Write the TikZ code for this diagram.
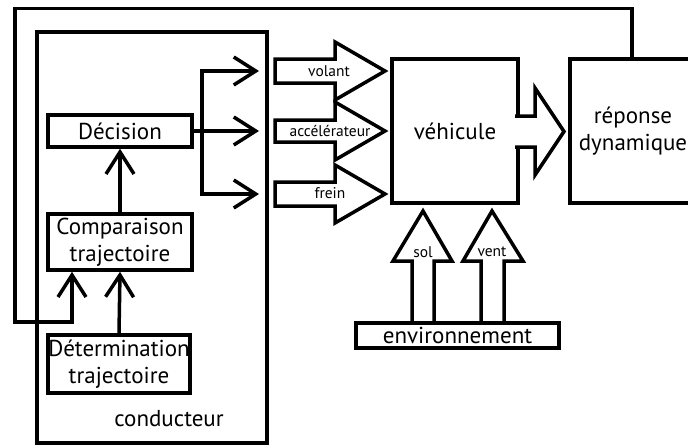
\documentclass[tikz,border=0pt]{standalone}
\usepackage{fontspec}
\setmainfont{PT Sans}
\usetikzlibrary{arrows.meta}
\begin{document}
\begin{tikzpicture}[x=1pt,y=-1pt, line width=3.5pt,
  box/.style={draw, line width=3.5pt, rectangle, inner sep=0pt, align=center,
    font=\fontsize{23}{27}\selectfont},
  big/.style={inner sep=0pt, font=\fontsize{23}{27}\selectfont},
  arr/.style={-{Straight Barb[length=22pt,width=28pt,line width=3.5pt]}},
  blk/.style={draw, fill=white, line width=3.5pt, line join=miter},
  lab/.style={inner sep=0pt, font=\fontsize{15.5}{17}\selectfont}]
\useasboundingbox (0,0) rectangle (688,447);

% conductor
\node[box, minimum width=230, minimum height=411] (cond) at (152,237.5) {};
\node[big] (condlab) at (169,419) {conducteur};
\node[box, minimum width=144, minimum height=32] (dec) at (120,131) {Décision};
\node[box, minimum width=144, minimum height=56] (comp) at (120,242) {Comparaison\\trajectoire};
\node[box, minimum width=142, minimum height=58] (det) at (119,364) {Détermination\\trajectoire};

% vehicle, response
\node[box, minimum width=126, minimum height=144] (veh) at (455,131) {véhicule};
\node[box, minimum width=126, minimum height=144] (rep) at (633,131) {réponse\\dynamique};

% input block arrows
\coordinate (vol) at (275,71);
\coordinate (acc) at (275,131);
\coordinate (fre) at (275,194);
\draw[blk] (275,59) -- (335,59) -- (335,42) -- (385,71) -- (335,100) -- (335,83) -- (275,83) -- cycle;
\draw[blk] (275,120) -- (335,120) -- (335,102) -- (385,131) -- (335,160) -- (335,142) -- (275,142) -- cycle;
\draw[blk] (275,182) -- (335,182) -- (335,165) -- (385,194) -- (335,223) -- (335,206) -- (275,206) -- cycle;
\node[lab] (volab) at (329,71) {volant};
\node[lab] (acclab) at (330,131) {accélérateur};
\node[lab] (frelab) at (330,193) {frein};

% output block arrow
\draw[blk] (515,116) -- (535,116) -- (535,88) -- (564,131.5) -- (535,175) -- (535,147) -- (515,147);

% environment arrows
\draw[blk] (412,324) -- (412,261) -- (393,261) -- (423,211) -- (452,261) -- (434,261) -- (434,324);
\draw[blk] (481,324) -- (481,261) -- (463,261) -- (492,211) -- (523,261) -- (504,261) -- (504,324);
\node[lab] (sollab) at (423,252) {sol};
\node[lab] (ventlab) at (492,252) {vent};
\node[box, fill=white, minimum width=203, minimum height=25] (env) at (457.5,335.5) {environnement};

% connectors inside conductor
\draw[arr] (comp.north) -- (dec.south);
\draw[arr] (det.north) -- (comp.south);
\coordinate (br) at ([xshift=8pt]dec.east);
\draw[arr] (dec.east) -- ([xshift=-16pt]acc);
\draw[arr] (br) |- ([xshift=-16pt]vol);
\draw[arr] (br) |- ([xshift=-16pt]fre);

% feedback
\draw[arr] ([xshift=-1pt]rep.north) -- ++(0,-49) -| (15,322) -| ([xshift=-48pt]comp.south);
\end{tikzpicture}
\end{document}
